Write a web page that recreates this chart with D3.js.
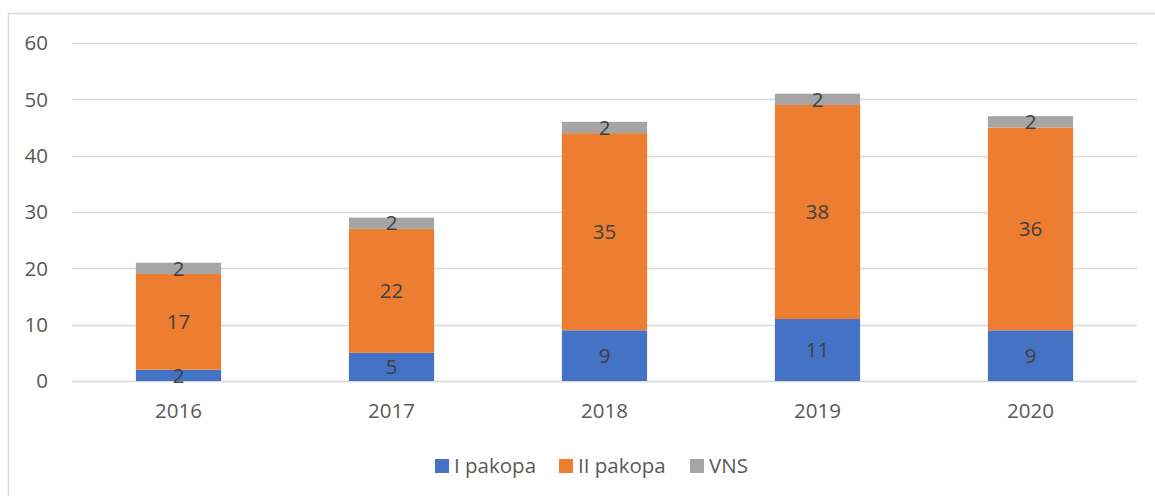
<!DOCTYPE html>
<html><head><meta charset="utf-8">
<script src="https://cdn.jsdelivr.net/npm/d3@7"></script>
<style>body{margin:0;background:#fff}svg{display:block}text{font-family:"Open Sans",sans-serif}</style>
</head><body><svg id="c" width="1155" height="496"></svg>
<script>
const years = ["2016","2017","2018","2019","2020"];
const seriesNames = ["I pakopa","II pakopa","VNS"];
const pakopa1 = [2,5,9,11,9];
const pakopa2 = [17,22,35,38,36];
const vns = [2,2,2,2,2];
const yTicks = [0,10,20,30,40,50,60];
const colors = ["#4472C4","#ED7D31","#A5A5A5"];

const svg = d3.select("#c");
svg.append("rect").attr("x",8.5).attr("y",13.5).attr("width",1170).attr("height",500)
  .attr("fill","none").attr("stroke","#d9d9d9").attr("stroke-width",1.5);

const L=72,R=1137,T=43,B=381;
const FS=20.5;
const x = d3.scaleBand().domain(years).range([L,R]).paddingInner(0.6).paddingOuter(0.3);
const y = d3.scaleLinear().domain([0,60]).range([B,T]);

const rows = years.map((yr,i)=>({year:yr,"I pakopa":pakopa1[i],"II pakopa":pakopa2[i],"VNS":vns[i]}));
const stack = d3.stack().keys(seriesNames)(rows);

svg.append("g").selectAll("line").data(yTicks).join("line")
  .attr("x1",L).attr("x2",R).attr("y1",d=>Math.round(y(d))+0.5).attr("y2",d=>Math.round(y(d))+0.5)
  .attr("stroke","#d9d9d9").attr("stroke-width",1.3);
svg.append("g").selectAll("text").data(yTicks).join("text")
  .attr("x",48).attr("y",d=>y(d)).attr("dy","0.35em").attr("text-anchor","end")
  .attr("fill","#595959").attr("font-size",FS).text(d=>d);

const g = svg.append("g");
stack.forEach((s,si)=>{
  g.append("g").selectAll("rect").data(s).join("rect")
    .attr("x",d=>x(d.data.year)).attr("width",x.bandwidth())
    .attr("y",d=>y(d[1])).attr("height",d=>y(d[0])-y(d[1]))
    .attr("fill",colors[si]);
});
stack.forEach((s,si)=>{
  g.append("g").selectAll("text").data(s).join("text")
    .attr("x",d=>x(d.data.year)+x.bandwidth()/2)
    .attr("y",d=>y((d[0]+d[1])/2)).attr("dy","0.35em").attr("text-anchor","middle")
    .attr("fill","#404040").attr("font-size",FS).text(d=>d[1]-d[0]);
});

svg.append("g").selectAll("text").data(years).join("text")
  .attr("x",d=>x(d)+x.bandwidth()/2).attr("y",411).attr("dy","0.35em").attr("text-anchor","middle")
  .attr("fill","#595959").attr("font-size",FS).text(d=>d);

const legX=[435,559,690];
const lg = svg.append("g");
seriesNames.forEach((n,i)=>{
  lg.append("rect").attr("x",legX[i]).attr("y",459).attr("width",14).attr("height",14).attr("fill",colors[i]);
  lg.append("text").attr("x",legX[i]+19).attr("y",466).attr("dy","0.35em").attr("fill","#595959").attr("font-size",FS).text(n);
});
</script></body></html>
